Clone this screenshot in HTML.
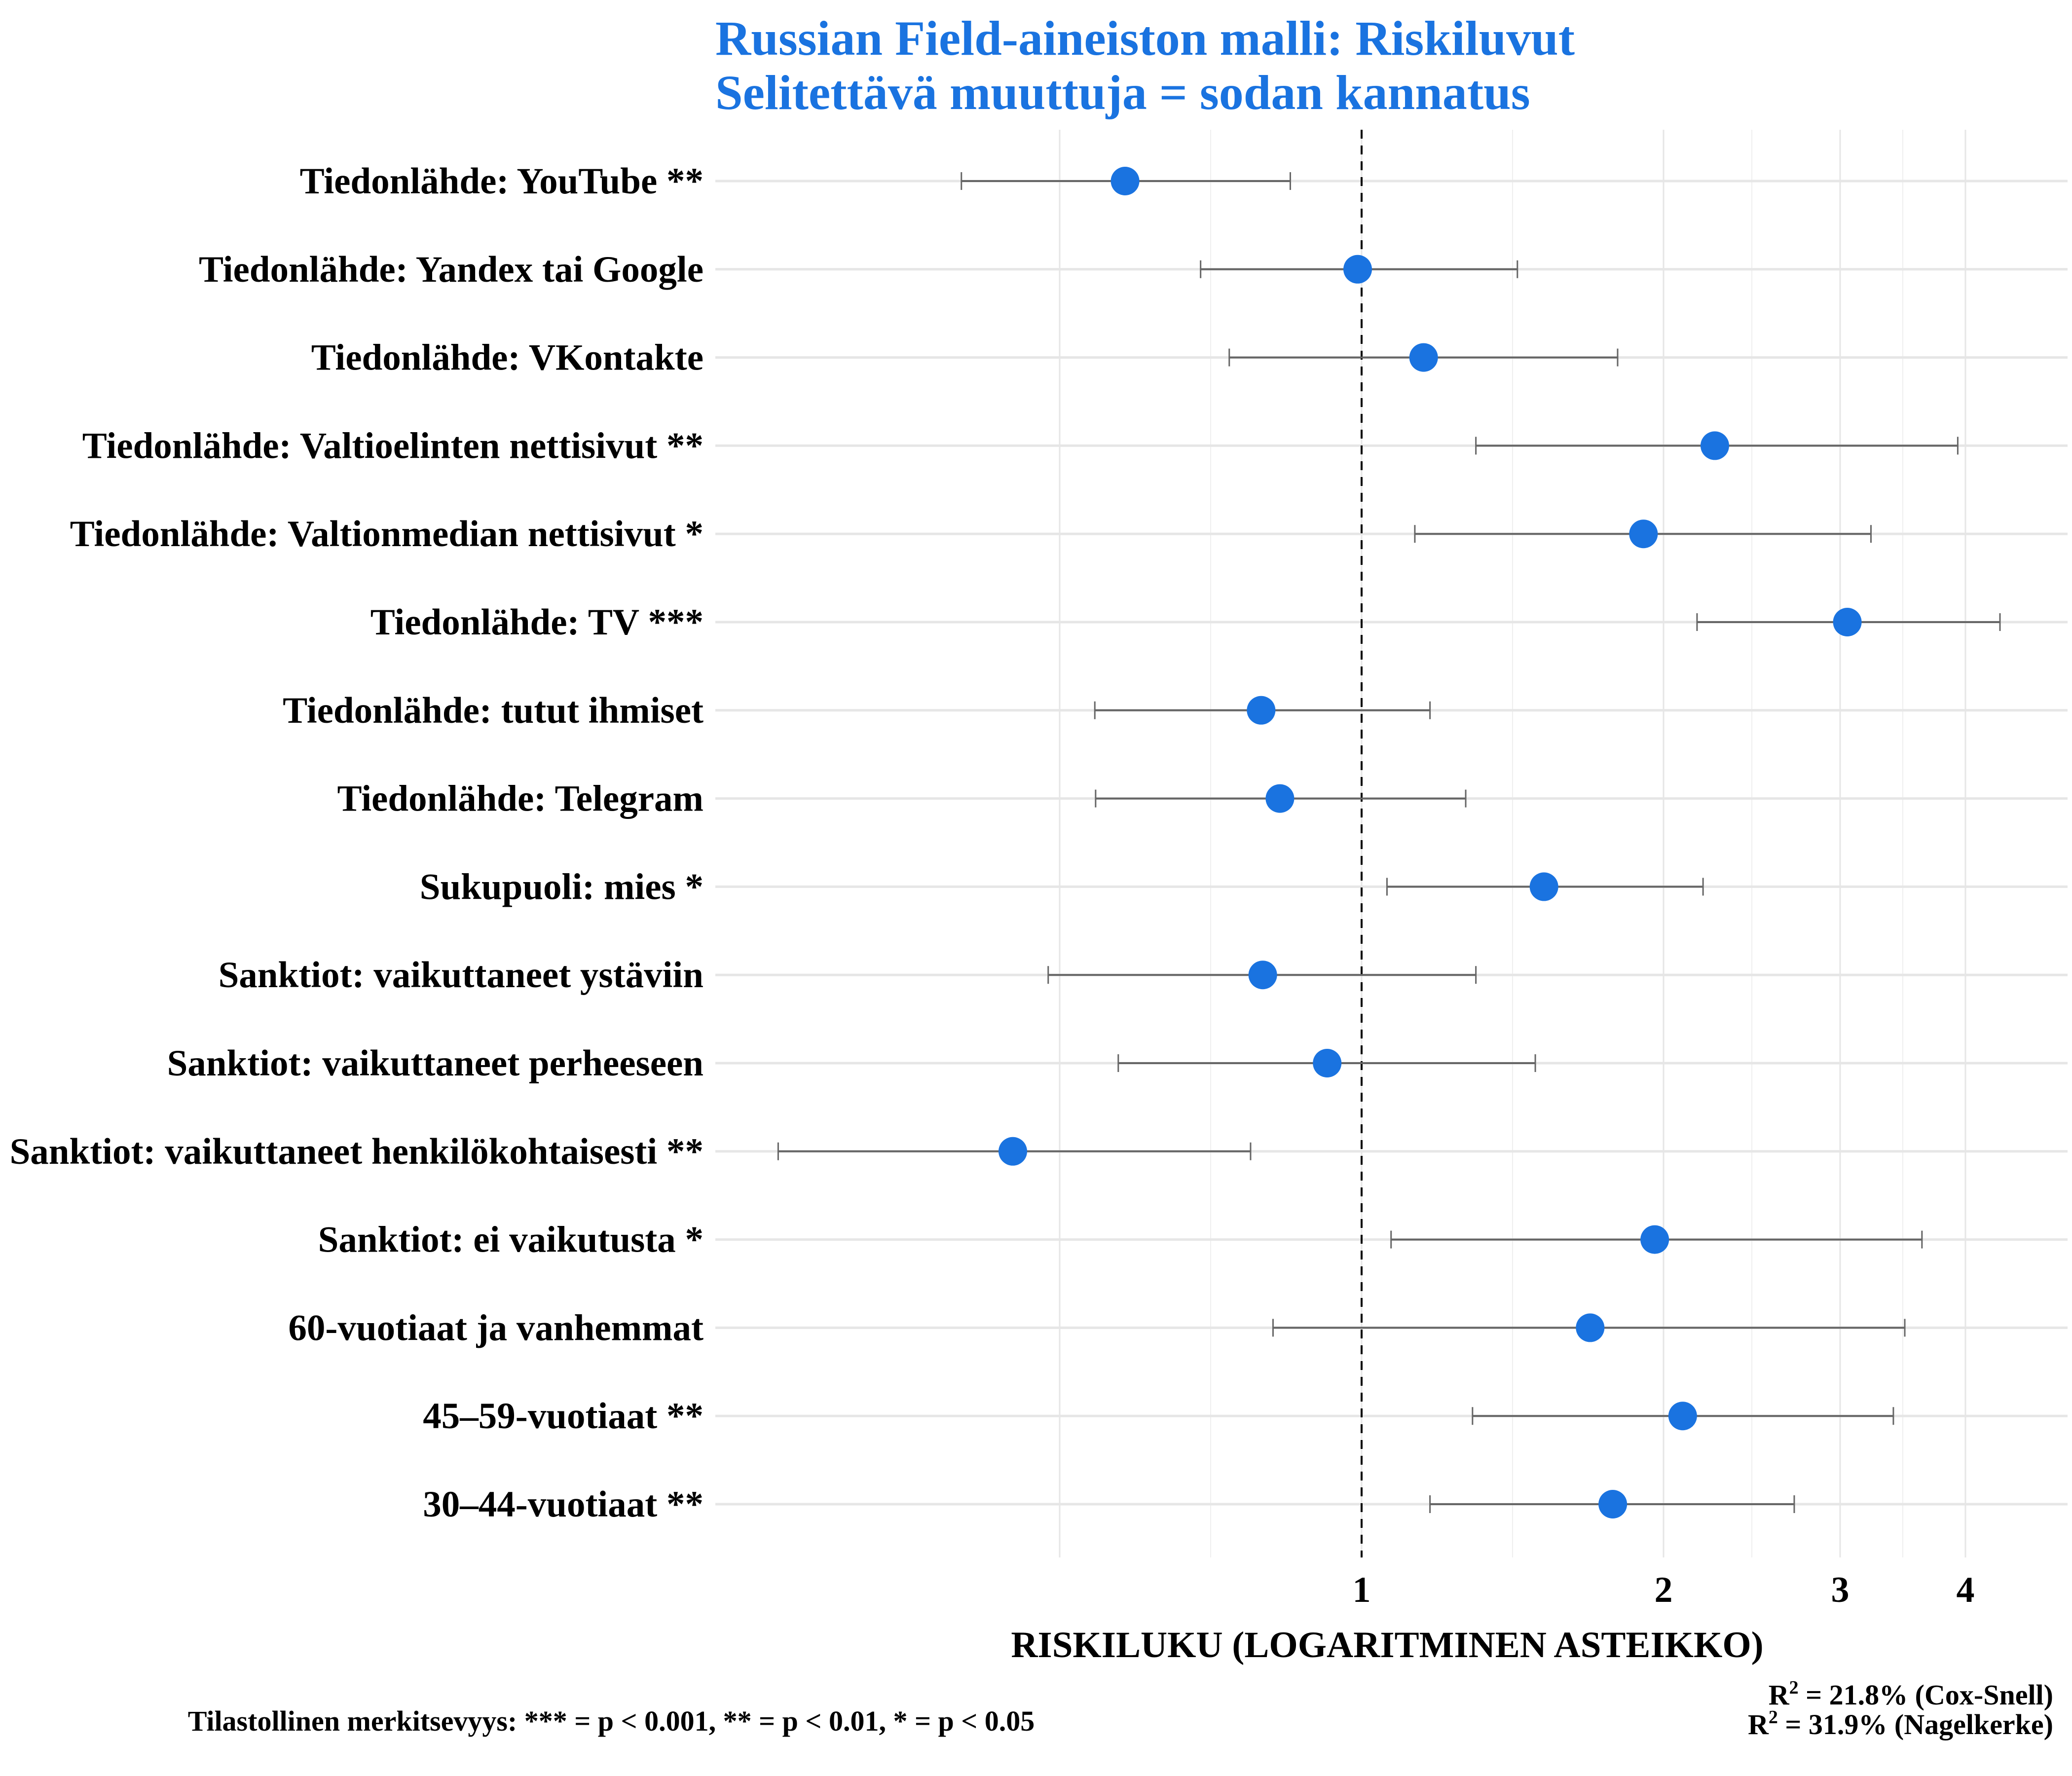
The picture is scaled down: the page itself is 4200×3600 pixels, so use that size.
<!DOCTYPE html>
<html><head><meta charset="utf-8"><style>
html,body{margin:0;padding:0;background:#fff;}
svg{display:block;font-family:"Liberation Serif",serif;}
</style></head><body>
<svg id="chart" width="4200" height="3600" viewBox="0 0 4200 3600" xmlns="http://www.w3.org/2000/svg">
<rect width="4200" height="3600" fill="#fff"/>
<text x="1450" y="111" font-size="100" font-weight="bold" fill="#1a73e0">Russian Field-aineiston malli: Riskiluvut</text>
<text x="1450" y="221" font-size="100" font-weight="bold" fill="#1a73e0">Selitettävä muuttuja = sodan kannatus</text>
<g id="grid"></g>
<g id="marks"></g>
<g id="ylabels"></g>
<g id="xticks"></g>
<text x="2812" y="3359" font-size="75" font-weight="bold" text-anchor="middle">RISKILUKU (LOGARITMINEN ASTEIKKO)</text>
<text x="1239" y="3508" font-size="58" font-weight="bold" text-anchor="middle">Tilastollinen merkitsevyys: *** = p &lt; 0.001, ** = p &lt; 0.01, * = p &lt; 0.05</text>
<text x="4162" y="3455" font-size="58" font-weight="bold" text-anchor="end">R<tspan font-size="38" dy="-22">2</tspan><tspan dy="22"> = 21.8% (Cox-Snell)</tspan></text>
<text x="4162" y="3515" font-size="58" font-weight="bold" text-anchor="end">R<tspan font-size="38" dy="-22">2</tspan><tspan dy="22"> = 31.9% (Nagelkerke)</tspan></text>
</svg>
<script>
const categories = ["Tiedonlähde: YouTube **","Tiedonlähde: Yandex tai Google","Tiedonlähde: VKontakte","Tiedonlähde: Valtioelinten nettisivut **","Tiedonlähde: Valtionmedian nettisivut *","Tiedonlähde: TV ***","Tiedonlähde: tutut ihmiset","Tiedonlähde: Telegram","Sukupuoli: mies *","Sanktiot: vaikuttaneet ystäviin","Sanktiot: vaikuttaneet perheeseen","Sanktiot: vaikuttaneet henkilökohtaisesti **","Sanktiot: ei vaikutusta *","60-vuotiaat ja vanhemmat","45–59-vuotiaat **","30–44-vuotiaat **"];
const estimates = [0.581,0.991,1.153,2.25,1.91,3.05,0.794,0.829,1.52,0.797,0.924,0.449,1.96,1.69,2.09,1.78];
const lowerCI = [0.399,0.691,0.738,1.30,1.13,2.16,0.542,0.543,1.06,0.487,0.572,0.262,1.07,0.816,1.29,1.17];
const upperCI = [0.849,1.43,1.80,3.93,3.22,4.33,1.17,1.27,2.19,1.30,1.49,0.775,3.62,3.48,3.39,2.70];
const majorTicks = [0.5,1,2,3,4];
const tickLabels = ["","1","2","3","4"];

const NS="http://www.w3.org/2000/svg";
const PL=1450, PR=4191, PT=263, PB=3157;
const X1=2760, UNIT=612;
function xScale(v){return X1+UNIT*Math.log2(v);}
function yScale(i){return 367+i*178.8;}
function mk(tag,attrs,parent){const e=document.createElementNS(NS,tag);for(const k in attrs)e.setAttribute(k,attrs[k]);parent.appendChild(e);return e;}
const grid=document.getElementById('grid'),marks=document.getElementById('marks'),yl=document.getElementById('ylabels'),xt=document.getElementById('xticks');
const tl=majorTicks.map(Math.log2);
for(let i=0;i<tl.length;i++){
  const x=X1+UNIT*tl[i];
  const l=mk('line',{x1:x,x2:x,y1:PT,y2:PB,stroke:'#e6e6e6','stroke-width':3},grid);
  
  
  if(i<tl.length-1){
    const xm=X1+UNIT*(tl[i]+tl[i+1])/2;
    const m=mk('line',{x1:xm,x2:xm,y1:PT,y2:PB,stroke:'#efefef','stroke-width':2},grid);
    
    
  }
  if(tickLabels[i]){
    const t=mk('text',{x:x,y:3247,'font-size':74,'font-weight':'bold','text-anchor':'middle'},xt);
    t.textContent=tickLabels[i];
    
    
  }
}
categories.forEach((c,i)=>{
  const y=yScale(i);
  const g=mk('line',{x1:PL,x2:PR,y1:y,y2:y,stroke:'#e6e6e6','stroke-width':5},grid);
  
  
  const t=mk('text',{x:1426,y:y+25,'font-size':75,'font-weight':'bold','text-anchor':'end'},yl);
  t.textContent=c;
  
  
});
const ref=mk('line',{x1:xScale(1),x2:xScale(1),y1:PT,y2:PB,stroke:'#000','stroke-width':4,'stroke-dasharray':'18 14'},grid);


categories.forEach((c,i)=>{
  const y=yScale(i),xl=xScale(lowerCI[i]),xh=xScale(upperCI[i]);
  const g=mk('g',{},marks);
  
  
  mk('line',{x1:xl,x2:xh,y1:y,y2:y,stroke:'#666','stroke-width':4},g);
  mk('line',{x1:xl,x2:xl,y1:y-18,y2:y+18,stroke:'#666','stroke-width':3},g);
  mk('line',{x1:xh,x2:xh,y1:y-18,y2:y+18,stroke:'#666','stroke-width':3},g);
  const p=mk('circle',{cx:xScale(estimates[i]),cy:y,r:29,fill:'#1a73e0'},marks);
  
  
});
</script>
</body></html>
